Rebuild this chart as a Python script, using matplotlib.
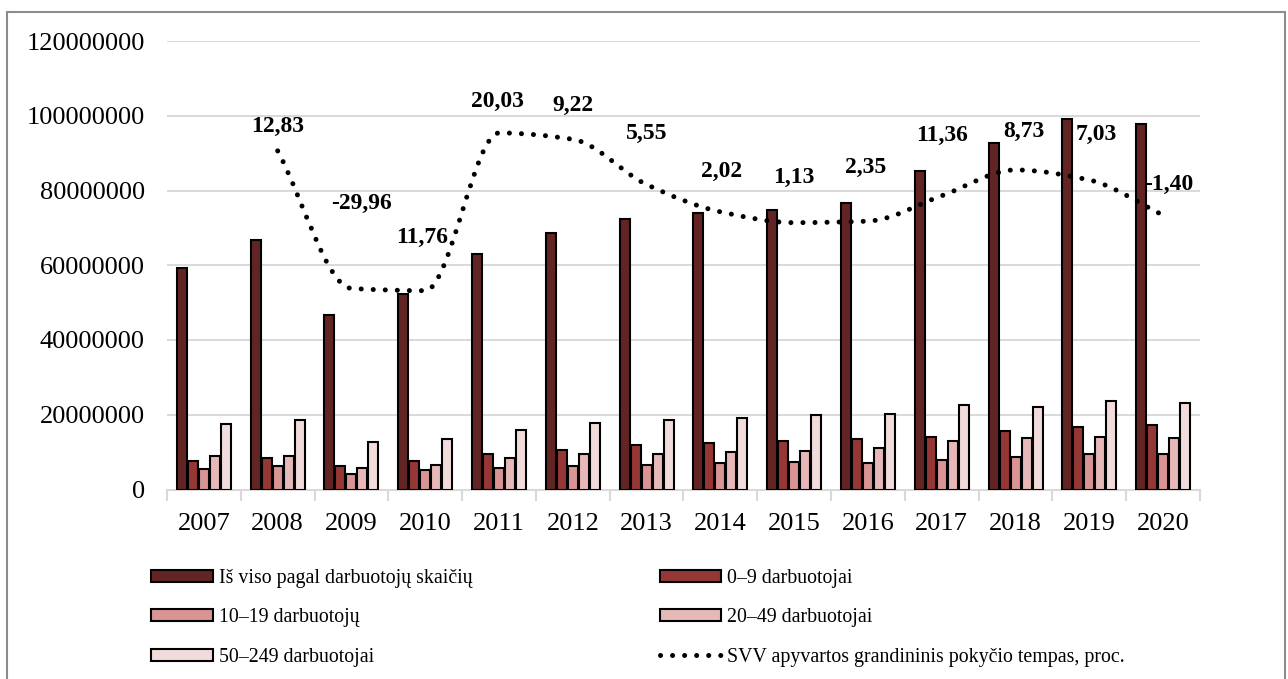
import numpy as np
import matplotlib
matplotlib.use("Agg")
import matplotlib.pyplot as plt
from matplotlib.path import Path
from matplotlib.patches import PathPatch, Rectangle
from matplotlib.lines import Line2D
from matplotlib.ticker import FuncFormatter, MultipleLocator

plt.rcParams['font.family'] = ['Liberation Serif', 'DejaVu Serif']

# data
years = ['2007', '2008', '2009', '2010', '2011', '2012', '2013',
         '2014', '2015', '2016', '2017', '2018', '2019', '2020']
total = [59.2, 66.7, 46.7, 52.3, 62.9, 68.7, 72.5, 73.9, 74.8, 76.6, 85.2, 92.6, 99.2, 97.8]
emp_0_9 = [7.7, 8.3, 6.3, 7.6, 9.5, 10.6, 12.0, 12.4, 13.0, 13.4, 14.0, 15.6, 16.8, 17.3]
emp_10_19 = [5.4, 6.3, 4.1, 5.1, 5.8, 6.4, 6.6, 7.0, 7.4, 7.2, 7.9, 8.8, 9.6, 9.6]
emp_20_49 = [9.0, 9.0, 5.8, 6.6, 8.5, 9.4, 9.6, 10.0, 10.4, 11.0, 12.9, 13.7, 14.1, 13.9]
emp_50_249 = [17.4, 18.6, 12.6, 13.5, 16.0, 17.7, 18.6, 19.2, 20.0, 20.2, 22.7, 22.0, 23.8, 23.1]

# growth rate line (2008-2020), drawn position and label text
rate_years = years[1:]
rate_line = [90.6, 53.8, 53.2, 95.4, 93.7, 81.6, 74.3, 71.4, 71.8, 78.6, 85.5, 82.8, 73.4]
rate_labels = ['12,83', '-29,96', '11,76', '20,03', '9,22', '5,55', '2,02',
               '1,13', '2,35', '11,36', '8,73', '7,03', '-1,40']

series_names = ['Iš viso pagal darbuotojų skaičių', '0–9 darbuotojai',
                '10–19 darbuotojų', '20–49 darbuotojai', '50–249 darbuotojai']
line_name = 'SVV apyvartos grandininis pokyčio tempas, proc.'

# styling
colors = ['#632523', '#953735', '#d99594', '#e6b9b8', '#f2dcdb']
label_offsets = [(0, 24), (10, 85), (-3, 53), (-2, 31), (0, 34), (0, 51), (1, 40),
                 (0, 45), (-2, 54), (0, 60), (8, 38), (7, 46), (6, 31)]
dots = (0, (0.01, 2.4))

W, H = 1288, 679
fig = plt.figure(figsize=(W / 100, H / 100), dpi=100)
ax = fig.add_axes([167 / W, 1 - 489.5 / H, (1200 - 167) / W, (489.5 - 41) / H])

all_series = [total, emp_0_9, emp_10_19, emp_20_49, emp_50_249]
x = np.arange(len(years))
slot = 0.149
bw = 0.135
bar_handles = []
for k, (vals, c, name) in enumerate(zip(all_series, colors, series_names)):
    b = ax.bar(x + (k - 2) * slot, np.array(vals) * 1e6, width=bw, color=c,
               edgecolor='black', linewidth=1.5, label=name, zorder=3)
    bar_handles.append(b)

# smoothed dotted line: cubic bezier through the points, flat at turning points
px = np.arange(1, len(years)).astype(float)
py = np.array(rate_line) * 1e6
d = np.diff(py)
m = np.zeros(len(py))
m[0], m[-1] = d[0], d[-1]
for i in range(1, len(py) - 1):
    if d[i - 1] * d[i] > 0:
        m[i] = 2 / (1 / d[i - 1] + 1 / d[i])
verts = [(px[0], py[0])]
codes = [Path.MOVETO]
for i in range(len(px) - 1):
    verts += [(px[i] + 1 / 3, py[i] + m[i] / 3),
              (px[i + 1] - 1 / 3, py[i + 1] - m[i + 1] / 3),
              (px[i + 1], py[i + 1])]
    codes += [Path.CURVE4] * 3
patch = PathPatch(Path(verts, codes), fill=False, edgecolor='black', linewidth=3.6,
                  linestyle=dots, capstyle='round', zorder=4)
ax.add_patch(patch)

for xi, yi, txt, (dx, dy) in zip(px, py, rate_labels, label_offsets):
    ax.annotate(txt, (xi, yi), xytext=(dx, dy), textcoords='offset pixels',
                ha='center', va='center', fontsize=17, fontweight='bold', zorder=5)

ax.set_xlim(-0.5, len(years) - 0.5)
ax.set_ylim(0, 120e6)
ax.yaxis.set_major_locator(MultipleLocator(20e6))
ax.yaxis.set_major_formatter(FuncFormatter(lambda v, p: f"{int(round(v))}"))
ax.set_xticks(x)
ax.set_xticklabels(years)
ax.set_xticks(np.arange(-0.5, len(years)), minor=True)
ax.tick_params(axis='x', which='major', length=0, labelsize=19, pad=17)
ax.tick_params(axis='x', which='minor', length=8, width=1.5, color='#d9d9d9')
ax.tick_params(axis='y', length=0, labelsize=19, pad=16)
ax.grid(axis='y', color='#d9d9d9', linewidth=1.4, zorder=0)
for s in ['top', 'right', 'left']:
    ax.spines[s].set_visible(False)
ax.spines['bottom'].set_color('#d9d9d9')
ax.spines['bottom'].set_linewidth(1.5)

line_handle = Line2D([], [], color='black', linewidth=3.6, linestyle=dots,
                     dash_capstyle='round')
handles = [bar_handles[0], bar_handles[2], bar_handles[4],
           bar_handles[1], bar_handles[3], line_handle]
labels = [series_names[0], series_names[2], series_names[4],
          series_names[1], series_names[3], line_name]
fig.legend(handles, labels, ncol=2, loc='upper left',
           bbox_to_anchor=(151 / W, 1 - 569 / H), frameon=False, fontsize=14.3,
           handlelength=3.1, handleheight=0.55, handletextpad=0.3,
           labelspacing=1.03, columnspacing=9.45, borderpad=0, borderaxespad=0)

fig.add_artist(Rectangle((7 / W, -0.02), (1285 - 7) / W, 1.02 - 12 / H,
                         transform=fig.transFigure, fill=False,
                         edgecolor='#8c8c8c', linewidth=1.5))

fig.savefig('out.png', dpi=100)
